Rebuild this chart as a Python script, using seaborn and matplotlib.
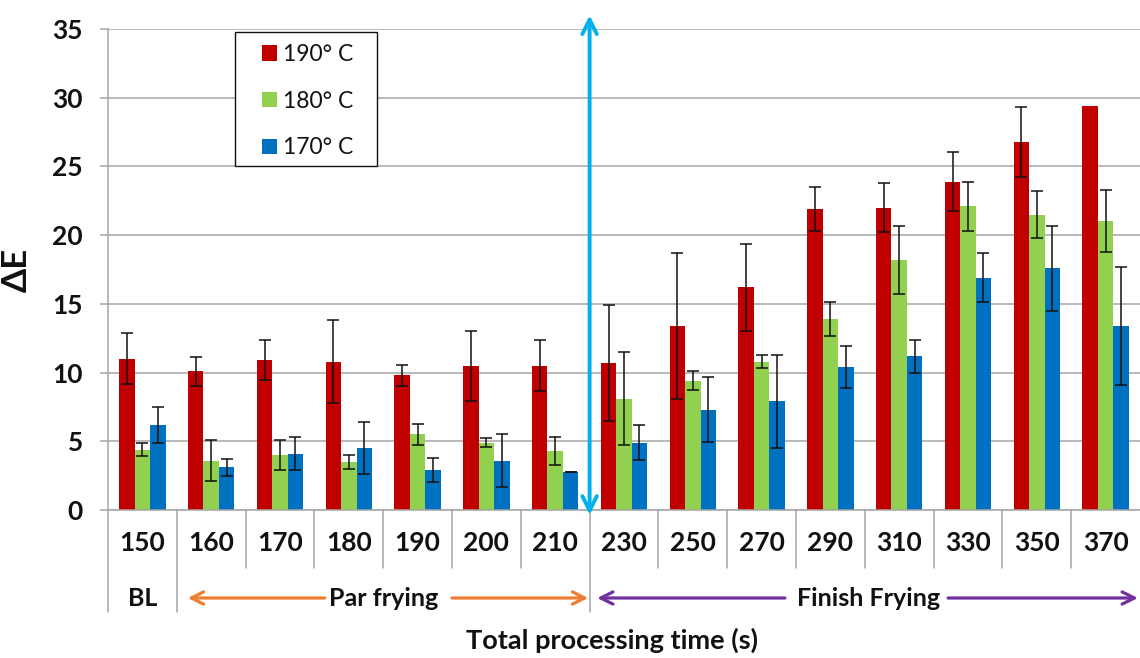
import numpy as np
import pandas as pd
import matplotlib
matplotlib.use("Agg")
import matplotlib.pyplot as plt
import matplotlib.transforms as mtransforms
import matplotlib.patches as mpatches
import seaborn as sns

# ---------------- data ----------------
times = ['150', '160', '170', '180', '190', '200', '210',
         '230', '250', '270', '290', '310', '330', '350', '370']
temps = ['190° C', '180° C', '170° C']
de_190 = [11.0, 10.1, 10.9, 10.8, 9.8, 10.5, 10.5, 10.7, 13.4, 16.2, 21.9, 22.0, 23.9, 26.8, 29.4]
err_190 = [1.85, 1.05, 1.45, 3.0, 0.75, 2.55, 1.85, 4.2, 5.3, 3.15, 1.6, 1.8, 2.15, 2.55, np.nan]
de_180 = [4.4, 3.6, 4.0, 3.5, 5.5, 4.9, 4.3, 8.1, 9.4, 10.8, 13.9, 18.2, 22.1, 21.5, 21.0]
err_180 = [0.45, 1.5, 1.1, 0.5, 0.75, 0.35, 1.0, 3.4, 0.7, 0.5, 1.25, 2.5, 1.8, 1.7, 2.25]
de_170 = [6.2, 3.1, 4.1, 4.5, 2.9, 3.6, 2.8, 4.9, 7.3, 7.9, 10.4, 11.2, 16.9, 17.6, 13.4]
err_170 = [1.3, 0.6, 1.2, 1.9, 0.85, 1.9, 0.0, 1.25, 2.35, 3.4, 1.5, 1.2, 1.8, 3.1, 4.3]
groups = ['BL', 'Par frying', 'Finish Frying']
yticks = [0, 5, 10, 15, 20, 25, 30, 35]

colors = ['#C00000', '#92D050', '#0070C0']

df = pd.DataFrame({
    'time': times * 3,
    'temp': [temps[0]] * len(times) + [temps[1]] * len(times) + [temps[2]] * len(times),
    'value': de_190 + de_180 + de_170,
})
errs = [err_190, err_180, err_170]

# ---------------- style ----------------
sns.set_theme(style='white')
plt.rcParams['font.family'] = ['Lato', 'DejaVu Sans']
plt.rcParams['font.weight'] = 'bold'

W, H = 1140, 658
fig = plt.figure(figsize=(W / 100, H / 100), dpi=100)
ax = fig.add_axes([108 / W, 1 - 510 / H, 1032 / W, 481 / H])

sns.barplot(data=df, x='time', y='value', hue='temp', order=times, hue_order=temps,
            palette=colors, saturation=1, width=0.675, errorbar=None, ax=ax,
            linewidth=0, legend=True, zorder=2)

# error bars
for cont, e in zip(ax.containers, errs):
    xs = [b.get_x() + b.get_width() / 2 for b in cont]
    ys = [b.get_height() for b in cont]
    ax.errorbar(xs, ys, yerr=e, fmt='none', ecolor='#111111', elinewidth=1.1,
                capsize=4.3, capthick=1.1, zorder=3)

ax.set_xlim(-0.5, len(times) - 0.5)
ax.set_ylim(0, 35)
ax.set_yticks(yticks)
ax.yaxis.grid(True, color='#A6A6A6', lw=1.1, zorder=0)
ax.set_axisbelow(True)
for s in ['top', 'right']:
    ax.spines[s].set_visible(False)
for s in ['left', 'bottom']:
    ax.spines[s].set_color('#A6A6A6')
    ax.spines[s].set_linewidth(1.1)
ax.tick_params(axis='y', which='major', left=True, length=6, width=1.1, color='#A6A6A6',
               pad=12, labelsize=19)
ax.tick_params(axis='x', length=0, pad=15, labelsize=19)
for t in ax.get_xticklabels() + ax.get_yticklabels():
    t.set_fontweight('bold')
    t.set_color('#111111')
ax.set_xlabel('')
ax.set_ylabel('ΔE', fontsize=25, fontweight='bold', labelpad=14, color='#111111')

# category separators of the axis table
tr = mtransforms.blended_transform_factory(ax.transData, ax.transAxes)
short = -(568 - 510) / 481
long_ = -(612 - 510) / 481
for i in range(len(times)):
    xb = i - 0.5
    yb = long_ if i in (0, 1, 7) else short
    ax.plot([xb, xb], [0, yb], transform=tr, color='#A6A6A6', lw=1.1, clip_on=False)

# group row
row2 = -(598 - 510) / 481
for xg, g in zip([0, 3.5, 10.55], groups):
    ax.text(xg, row2, g, transform=tr, ha='center', va='center', fontsize=18,
            fontweight='bold', color='#111111')

def arrow(x0, x1, color):
    ax.annotate('', xy=(x1, row2), xytext=(x0, row2), xycoords=tr, textcoords=tr,
                arrowprops=dict(arrowstyle='->', lw=2.3, color=color, mutation_scale=22,
                                shrinkA=0, shrinkB=0), annotation_clip=False)

orange = '#ED7D31'
purple = '#7030A0'
arrow(2.65, 0.66, orange)
arrow(4.5, 6.48, orange)
arrow(9.34, 6.61, purple)
arrow(11.71, 14.47, purple)

# vertical divider arrow between par frying and finish frying
ax.annotate('', xy=(6.5, 36.0), xytext=(6.5, -0.36), xycoords='data', textcoords='data',
            arrowprops=dict(arrowstyle='<->', lw=2.8, color='#00B0F0', mutation_scale=26,
                            shrinkA=0, shrinkB=0), annotation_clip=False, zorder=5)

# x label
fig.text(612 / W, 1 - 640 / H, 'Total processing time (s)', ha='center', va='center',
         fontsize=19.5, fontweight='bold', color='#111111')

# legend: white box frame + entries
frame = mpatches.Rectangle((235 / W, 1 - 166 / H), 142 / W, 134 / H, transform=fig.transFigure,
                           facecolor='white', edgecolor='#111111', lw=1.0, zorder=4)
ax.add_artist(frame)
frame.set_clip_on(False)
leg = ax.legend(loc='upper left', bbox_to_anchor=(262 / W, 1 - 44 / H),
                bbox_transform=fig.transFigure, borderaxespad=0, borderpad=0,
                frameon=False, prop={'size': 16.5}, handlelength=0.66, handleheight=0.66,
                labelspacing=1.12, handletextpad=0.25)
leg.set_zorder(6)
for t in leg.get_texts():
    t.set_fontweight('normal')
    t.set_color('#111111')

fig.savefig('out.png', dpi=100)
